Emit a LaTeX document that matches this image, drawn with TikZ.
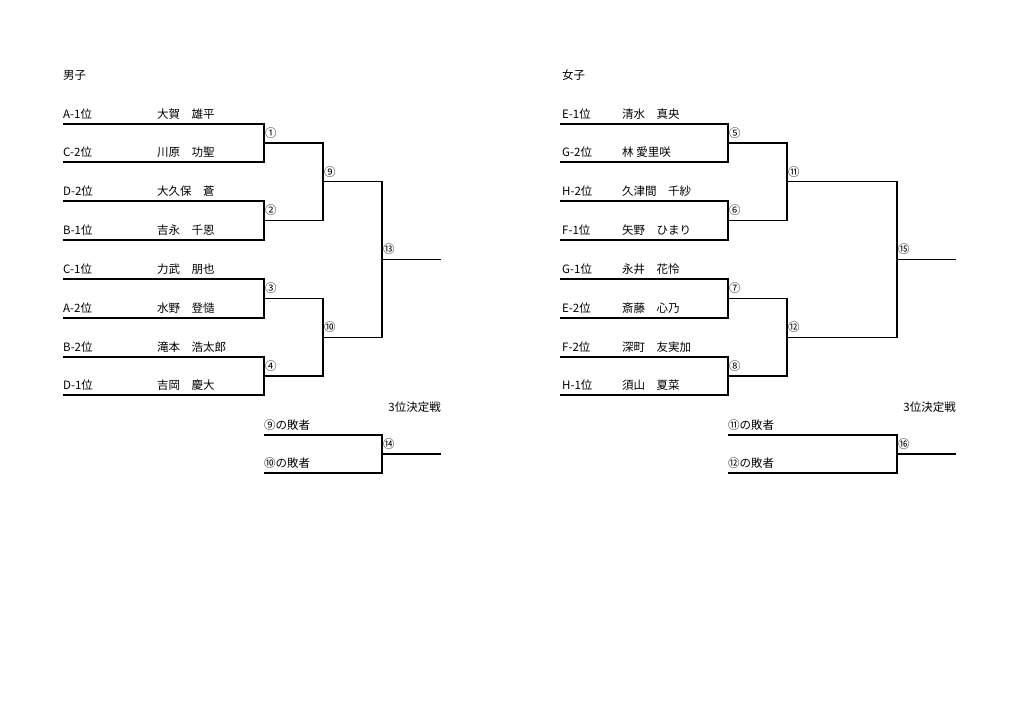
\documentclass[tikz,border=0pt]{standalone}
\usepackage{fontspec}
\setmainfont{Noto Sans CJK JP}
\usetikzlibrary{calc}
\begin{document}
\begin{tikzpicture}[x=1pt,y=-1pt,font=\fontsize{11.5}{13}\selectfont,
		line/.style={line width=1.2pt},
		lbl/.style={anchor=west,inner sep=1pt}]
		% Page
		\fill[white] (0,0) rectangle (1024,724);
		\useasboundingbox (0,0) rectangle (1024,724);
		
		% Boys: entries
		\node[lbl] (boys) at (62,75) {男子};
		\foreach \y/\rank/\name [count=\i] in {124/A-1位/大賀　雄平, 162/C-2位/川原　功聖,
			201/D-2位/大久保　蒼, 240/B-1位/吉永　千恩, 279/C-1位/力武　朋也,
			318/A-2位/水野　登慥, 357/B-2位/滝本　浩太郎, 395/D-1位/吉岡　慶大}{
			\coordinate (bs\i) at (63,\y);
			\coordinate (be\i) at (264,\y);
			\node[lbl] (brank\i) at (62,\y-10) {\rank};
			\node[lbl] (bname\i) at (156,\y-10) {\name};
		}
		
		% Boys: round 1
		\foreach \a/\b/\k/\num in {1/2/1/①, 3/4/2/②, 5/6/3/③, 7/8/4/④}{
			\draw[line] (bs\a) -- (be\a) -- (be\b) -- (bs\b);
			\coordinate (bm\k) at ($(be\a)!.5!(be\b)$);
			\coordinate (bo\k) at ([xshift=59pt]bm\k);
			\node[lbl] (bn\k) at ([yshift=10pt]bm\k) {\num};
		}
		
		% Boys: round 2
		\foreach \a/\b/\k/\num in {1/2/1/⑨, 3/4/2/⑩}{
			\draw[line] (bm\a) -- (bo\a) -- (bo\b) -- (bm\b);
			\coordinate (bq\k) at ($(bo\a)!.5!(bo\b)$);
			\coordinate (bp\k) at ([xshift=59pt]bq\k);
			\node[lbl] (bqn\k) at ([yshift=10pt]bq\k) {\num};
		}
		
		% Boys: final
		\draw[line] (bq1) -- (bp1) -- (bp2) -- (bq2);
		\coordinate (bf) at ($(bp1)!.5!(bp2)$);
		\coordinate (bw) at ([xshift=59pt]bf);
		\draw[line] (bf) -- (bw);
		\node[lbl] (bfn) at ([yshift=10pt]bf) {⑬};
		
		% Boys: 3rd place
		\node[anchor=east,inner sep=1pt] (bthird) at (442,407) {3位決定戦};
		\coordinate (bt1s) at (264,435);
		\coordinate (bt1e) at (382,435);
		\coordinate (bt2s) at (264,473);
		\coordinate (bt2e) at (382,473);
		\node[lbl] (bl1) at (263,425) {⑨の敗者};
		\node[lbl] (bl2) at (263,463) {⑩の敗者};
		\draw[line] (bt1s) -- (bt1e) -- (bt2e) -- (bt2s);
		\coordinate (btm) at ($(bt1e)!.5!(bt2e)$);
		\coordinate (btw) at ([xshift=59pt]btm);
		\draw[line] (btm) -- (btw);
		\node[lbl] (btn) at ([yshift=10pt]btm) {⑭};
		
		% Girls: entries
		\node[lbl] (girls) at (561,75) {女子};
		\foreach \y/\rank/\name [count=\i] in {124/E-1位/清水　真央, 162/G-2位/林 愛里咲,
			201/H-2位/久津間　千紗, 240/F-1位/矢野　ひまり, 279/G-1位/永井　花怜,
			318/E-2位/斎藤　心乃, 357/F-2位/深町　友実加, 395/H-1位/須山　夏菜}{
			\coordinate (gs\i) at (560,\y);
			\coordinate (ge\i) at (728,\y);
			\node[lbl] (grank\i) at (561,\y-10) {\rank};
			\node[lbl] (gname\i) at (621,\y-10) {\name};
		}
		
		% Girls: round 1
		\foreach \a/\b/\k/\num in {1/2/1/⑤, 3/4/2/⑥, 5/6/3/⑦, 7/8/4/⑧}{
			\draw[line] (gs\a) -- (ge\a) -- (ge\b) -- (gs\b);
			\coordinate (gm\k) at ($(ge\a)!.5!(ge\b)$);
			\coordinate (go\k) at ([xshift=59pt]gm\k);
			\node[lbl] (gn\k) at ([yshift=10pt]gm\k) {\num};
		}
		
		% Girls: round 2
		\foreach \a/\b/\k/\num in {1/2/1/⑪, 3/4/2/⑫}{
			\draw[line] (gm\a) -- (go\a) -- (go\b) -- (gm\b);
			\coordinate (gq\k) at ($(go\a)!.5!(go\b)$);
			\coordinate (gp\k) at ([xshift=110pt]gq\k);
			\node[lbl] (gqn\k) at ([yshift=10pt]gq\k) {\num};
		}
		
		% Girls: final
		\draw[line] (gq1) -- (gp1) -- (gp2) -- (gq2);
		\coordinate (gf) at ($(gp1)!.5!(gp2)$);
		\coordinate (gw) at ([xshift=59pt]gf);
		\draw[line] (gf) -- (gw);
		\node[lbl] (gfn) at ([yshift=10pt]gf) {⑮};
		
		% Girls: 3rd place
		\node[anchor=east,inner sep=1pt] (gthird) at (957,407) {3位決定戦};
		\coordinate (gt1s) at (728,435);
		\coordinate (gt1e) at (897,435);
		\coordinate (gt2s) at (728,473);
		\coordinate (gt2e) at (897,473);
		\node[lbl] (gl1) at (727,425) {⑪の敗者};
		\node[lbl] (gl2) at (727,463) {⑫の敗者};
		\draw[line] (gt1s) -- (gt1e) -- (gt2e) -- (gt2s);
		\coordinate (gtm) at ($(gt1e)!.5!(gt2e)$);
		\coordinate (gtw) at ([xshift=59pt]gtm);
		\draw[line] (gtm) -- (gtw);
		\node[lbl] (gtn) at ([yshift=10pt]gtm) {⑯};
		
	\end{tikzpicture}
\end{document}
